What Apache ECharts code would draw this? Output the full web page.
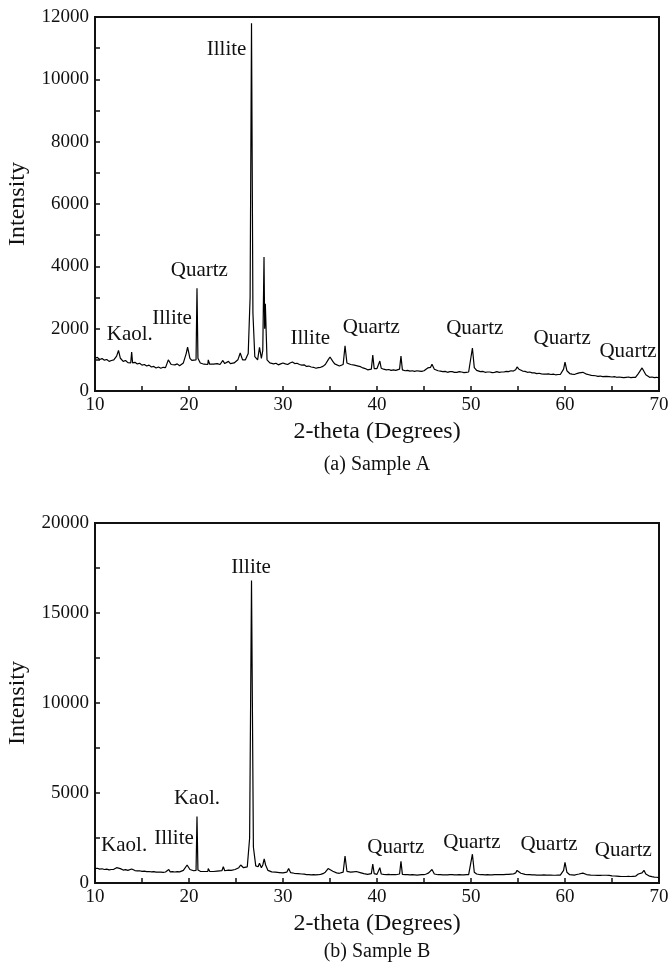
<!DOCTYPE html>
<html>
<head>
<meta charset="utf-8">
<script src="https://cdn.jsdelivr.net/npm/echarts@6/dist/echarts.min.js"></script>
<style>
  html, body { margin: 0; padding: 0; background: #fff; }
  #xrd { width: 671px; height: 965px; }
</style>
</head>
<body>
<div id="xrd"></div>
<script>
// sample A pattern [2-theta, intensity]
const patternA = [
    [10.0,1050],[10.25,1080],[10.5,1010],[10.75,1040],[11.0,990],[11.25,1010],[11.5,950],[11.75,980],
    [12.0,1000],[12.3,1120],[12.5,1300],[12.7,1050],[13.0,950],[13.25,980],[13.5,910],[13.7,930],
    [13.8,900],[13.9,1250],[14.0,900],[14.25,920],[14.5,870],[14.75,890],[15.0,830],[15.25,850],
    [15.5,800],[15.75,830],[16.0,770],[16.25,790],[16.5,740],[16.75,770],[17.0,730],[17.25,760],
    [17.5,750],[17.8,1000],[17.9,1060],[18.1,850],[18.3,880],[18.5,840],[18.75,870],[19.0,810],
    [19.2,860],[19.4,900],[19.7,1200],[19.85,1410],[20.1,1050],[20.3,980],[20.5,940],[20.75,1000],
    [20.85,3300],[20.95,1050],[21.2,900],[21.4,930],[21.6,860],[21.8,880],[22.0,850],[22.05,1000],
    [22.2,860],[22.4,830],[22.6,860],[22.8,840],[23.0,880],[23.3,850],[23.5,870],[23.6,980],
    [23.8,880],[24.0,900],[24.2,950],[24.4,880],[24.6,920],[24.8,900],[25.0,950],[25.2,1000],
    [25.45,1220],[25.7,1000],[26.0,1000],[26.3,1200],[26.5,3000],[26.65,11800],[26.8,2500],[27.0,1100],
    [27.3,1000],[27.5,1400],[27.7,1050],[27.85,1300],[27.98,4300],[28.05,2000],[28.12,2800],[28.3,1000],
    [28.6,900],[28.8,930],[29.0,870],[29.25,890],[29.5,840],[29.75,870],[30.0,900],[30.25,870],
    [30.5,850],[30.75,900],[31.0,930],[31.25,880],[31.5,890],[31.75,850],[32.0,830],[32.25,840],
    [32.5,790],[32.75,800],[33.0,770],[33.25,760],[33.5,730],[33.75,750],[34.0,760],[34.25,790],
    [34.5,850],[34.8,1000],[35.0,1090],[35.3,950],[35.5,870],[35.7,820],[36.0,800],[36.2,830],
    [36.4,850],[36.6,1450],[36.8,900],[37.0,870],[37.2,850],[37.4,860],[37.6,830],[37.8,850],
    [38.0,800],[38.25,780],[38.5,740],[38.75,720],[39.0,680],[39.2,710],[39.4,700],[39.55,1150],
    [39.7,720],[39.85,740],[40.0,720],[40.3,960],[40.45,730],[40.7,700],[41.0,680],[41.25,690],
    [41.5,660],[41.75,680],[42.0,660],[42.2,680],[42.4,700],[42.55,1120],[42.7,680],[43.0,650],
    [43.25,660],[43.5,640],[43.75,650],[44.0,630],[44.25,650],[44.5,640],[44.75,630],[45.0,650],
    [45.2,680],[45.4,740],[45.6,800],[45.7,760],[45.85,860],[46.1,700],[46.3,680],[46.5,650],
    [46.75,640],[47.0,620],[47.25,630],[47.5,600],[47.75,620],[48.0,620],[48.25,600],[48.5,600],
    [48.75,620],[49.0,610],[49.25,590],[49.5,600],[49.75,610],[49.9,640],[50.15,1380],[50.35,750],
    [50.6,660],[50.8,640],[51.0,620],[51.25,630],[51.5,600],[51.75,610],[52.0,610],[52.25,590],
    [52.5,600],[52.75,620],[53.0,600],[53.25,610],[53.5,610],[53.75,630],[54.0,620],[54.25,650],
    [54.5,640],[54.75,680],[54.9,770],[55.1,700],[55.3,680],[55.5,640],[55.75,630],[56.0,600],
    [56.25,610],[56.5,580],[56.75,580],[57.0,560],[57.25,570],[57.5,550],[57.75,540],[58.0,540],
    [58.25,550],[58.5,530],[58.75,540],[59.0,520],[59.25,530],[59.5,530],[59.7,560],[59.85,700],
    [60.0,930],[60.2,650],[60.5,560],[60.75,540],[61.0,530],[61.25,560],[61.5,580],[61.7,610],
    [61.9,600],[62.1,570],[62.3,540],[62.55,520],[62.8,500],[63.0,480],[63.25,490],[63.5,470],
    [63.75,480],[64.0,460],[64.2,520],[64.4,470],[64.7,460],[65.0,450],[65.25,460],[65.5,440],
    [65.75,450],[66.0,440],[66.25,430],[66.5,440],[66.75,450],[67.0,430],[67.25,440],[67.5,440],
    [67.8,560],[68.0,600],[68.2,740],[68.4,720],[68.6,520],[68.8,470],[69.0,440],[69.25,450],
    [69.5,430],[69.75,440],[70.0,420]
];

// sample B pattern [2-theta, intensity]
const patternB = [
    [10.0,800],[10.25,820],[10.5,770],[10.75,790],[11.0,750],[11.25,770],[11.5,730],[11.75,750],
    [12.0,760],[12.3,850],[12.5,950],[12.7,800],[13.0,720],[13.25,740],[13.5,700],[13.7,720],
    [13.9,780],[14.0,700],[14.25,690],[14.5,670],[14.75,680],[15.0,650],[15.25,660],[15.5,630],
    [15.75,640],[16.0,620],[16.25,630],[16.5,600],[16.75,610],[17.0,600],[17.25,590],[17.5,610],
    [17.85,750],[18.0,620],[18.25,630],[18.5,610],[18.75,630],[19.0,620],[19.2,650],[19.4,700],
    [19.8,1000],[20.1,750],[20.3,700],[20.5,680],[20.75,700],[20.85,3700],[20.95,720],[21.2,650],
    [21.4,660],[21.6,640],[21.8,650],[22.0,650],[22.05,800],[22.2,650],[22.4,640],[22.6,640],
    [22.8,660],[23.0,660],[23.25,670],[23.5,680],[23.65,900],[23.8,680],[24.0,700],[24.2,720],
    [24.35,800],[24.5,700],[24.7,720],[24.9,750],[25.1,780],[25.3,850],[25.5,1000],[25.8,850],
    [26.0,870],[26.2,900],[26.45,2500],[26.65,16800],[26.85,2000],[27.1,950],[27.35,900],[27.5,1100],
    [27.7,850],[27.85,1000],[28.0,1340],[28.15,1000],[28.4,700],[28.6,660],[28.8,620],[29.0,630],
    [29.2,600],[29.4,610],[29.6,580],[29.8,590],[30.0,560],[30.2,580],[30.4,600],[30.6,800],
    [30.8,580],[31.0,560],[31.2,540],[31.4,550],[31.6,520],[31.8,520],[32.0,500],[32.25,490],
    [32.5,470],[32.75,470],[33.0,450],[33.25,460],[33.5,450],[33.75,460],[34.0,480],[34.25,520],
    [34.5,600],[34.8,800],[35.0,840],[35.3,650],[35.5,600],[35.7,560],[36.0,540],[36.2,560],
    [36.4,600],[36.6,1500],[36.8,650],[37.0,620],[37.2,600],[37.5,620],[37.8,640],[38.0,610],
    [38.2,580],[38.4,550],[38.6,520],[38.8,500],[39.0,480],[39.2,500],[39.4,520],[39.55,1050],
    [39.7,520],[39.85,500],[40.0,480],[40.3,850],[40.45,500],[40.7,480],[41.0,470],[41.25,480],
    [41.5,460],[41.75,470],[42.0,460],[42.2,470],[42.4,500],[42.55,1200],[42.7,480],[43.0,460],
    [43.25,470],[43.5,450],[43.75,460],[44.0,450],[44.25,440],[44.5,450],[44.75,460],[45.0,460],
    [45.25,500],[45.5,560],[45.7,620],[45.85,750],[46.1,500],[46.3,480],[46.5,460],[46.75,460],
    [47.0,450],[47.25,450],[47.5,450],[47.75,460],[48.0,460],[48.25,450],[48.5,450],[48.75,460],
    [49.0,450],[49.25,450],[49.5,460],[49.75,470],[49.9,520],[50.15,1600],[50.35,600],[50.6,500],
    [50.8,480],[51.0,460],[51.25,460],[51.5,450],[51.75,460],[52.0,450],[52.25,450],[52.5,460],
    [52.75,460],[53.0,460],[53.25,470],[53.5,470],[53.75,480],[54.0,480],[54.25,490],[54.5,500],
    [54.75,560],[54.9,700],[55.1,600],[55.3,540],[55.5,500],[55.75,480],[56.0,460],[56.25,460],
    [56.5,450],[56.75,450],[57.0,440],[57.25,440],[57.5,440],[57.75,450],[58.0,440],[58.25,440],
    [58.5,440],[58.75,430],[59.0,430],[59.25,440],[59.5,440],[59.7,480],[59.85,700],[60.0,1150],
    [60.2,600],[60.5,460],[60.75,450],[61.0,440],[61.25,470],[61.5,500],[61.7,540],[61.9,550],
    [62.1,510],[62.3,470],[62.55,450],[62.8,430],[63.1,430],[63.5,420],[63.75,420],[64.0,430],
    [64.2,500],[64.4,430],[64.7,420],[65.0,400],[65.25,390],[65.5,380],[65.75,370],[66.0,360],
    [66.25,360],[66.5,360],[66.75,370],[67.0,360],[67.25,370],[67.5,380],[67.8,500],[68.0,600],
    [68.2,560],[68.4,700],[68.6,500],[68.8,420],[69.0,380],[69.25,350],[69.5,330],[69.75,320],
    [70.0,300]
];

// phase labels: text, 2-theta and intensity where the label is centred
const labelsA = ['Illite', 'Quartz', 'Illite', 'Kaol.', 'Illite', 'Quartz', 'Quartz', 'Quartz', 'Quartz'];
const labelXA = [24.0, 21.1, 18.2, 13.7, 32.9, 39.4, 50.4, 59.7, 66.7];
const labelYA = [10950, 3880, 2340, 1800, 1700, 2050, 1990, 1700, 1280];

const labelsB = ['Illite', 'Kaol.', 'Illite', 'Kaol.', 'Quartz', 'Quartz', 'Quartz', 'Quartz'];
const labelXB = [26.6, 20.85, 18.4, 13.1, 42.0, 50.1, 58.3, 66.2];
const labelYB = [17550, 4680, 2500, 2060, 1950, 2230, 2120, 1780];

const serif = '"Liberation Serif", "DejaVu Serif", serif';
const ink = '#111';

const labelPoints = (names, xs, ys) => names.map((n, i) => ({ name: n, value: [xs[i], ys[i]] }));

const xAxisBase = (gridIndex) => ({
    type: 'value', gridIndex: gridIndex, min: 10, max: 70, interval: 10,
    name: '2-theta (Degrees)', nameLocation: 'middle', nameGap: 29,
    nameTextStyle: { fontFamily: serif, fontSize: 24, color: ink },
    axisLine: { show: true, onZero: false, lineStyle: { color: ink, width: 2 } },
    axisTick: { show: true, inside: true, length: 5, lineStyle: { color: ink, width: 1.5 } },
    minorTick: { show: true, splitNumber: 2, length: 5, lineStyle: { color: ink, width: 1.5 } },
    axisLabel: { fontFamily: serif, fontSize: 19, color: ink, margin: 5 },
    splitLine: { show: false }
});

const yAxisBase = (gridIndex, max, interval) => ({
    type: 'value', gridIndex: gridIndex, min: 0, max: max, interval: interval,
    name: 'Intensity', nameLocation: 'middle', nameGap: 65,
    nameTextStyle: { fontFamily: serif, fontSize: 24, color: ink },
    axisLine: { show: true, lineStyle: { color: ink, width: 2 } },
    axisTick: { show: true, inside: true, length: 5, lineStyle: { color: ink, width: 1.5 } },
    minorTick: { show: true, splitNumber: 2, length: 5, lineStyle: { color: ink, width: 1.5 } },
    axisLabel: { fontFamily: serif, fontSize: 19, color: ink, margin: 6, formatter: (v) => String(v) },
    splitLine: { show: false }
});

const labelSeries = (idx, data) => ({
    type: 'scatter', xAxisIndex: idx, yAxisIndex: idx,
    symbolSize: 0, silent: true, data: data,
    itemStyle: { color: ink, opacity: 1 },
    label: {
        show: true, position: 'inside', formatter: '{b}',
        fontFamily: serif, fontSize: 21, color: ink, textBorderWidth: 0
    }
});

const lineSeries = (idx, data) => ({
    type: 'line', xAxisIndex: idx, yAxisIndex: idx,
    data: data, showSymbol: false, smooth: false, silent: true,
    lineStyle: { color: '#000', width: 1.2 }
});

const chart = echarts.init(document.getElementById('xrd'), null, { renderer: 'canvas' });
chart.setOption({
    backgroundColor: '#fff',
    animation: false,
    grid: [
        { left: 95, right: 12, top: 17, height: 374, show: true, borderColor: ink, borderWidth: 2, outerBoundsMode: 'none' },
        { left: 95, right: 12, top: 523, height: 360, show: true, borderColor: ink, borderWidth: 2, outerBoundsMode: 'none' }
    ],
    xAxis: [xAxisBase(0), xAxisBase(1)],
    yAxis: [yAxisBase(0, 12000, 2000), yAxisBase(1, 20000, 5000)],
    series: [
        lineSeries(0, patternA),
        lineSeries(1, patternB),
        labelSeries(0, labelPoints(labelsA, labelXA, labelYA)),
        labelSeries(1, labelPoints(labelsB, labelXB, labelYB))
    ],
    graphic: [
        { type: 'text', x: 377, y: 465, style: { text: '(a) Sample A', font: '20px ' + serif, fill: ink, align: 'center', verticalAlign: 'middle' } },
        { type: 'text', x: 377, y: 952, style: { text: '(b) Sample B', font: '20px ' + serif, fill: ink, align: 'center', verticalAlign: 'middle' } }
    ]
});
</script>
</body>
</html>
